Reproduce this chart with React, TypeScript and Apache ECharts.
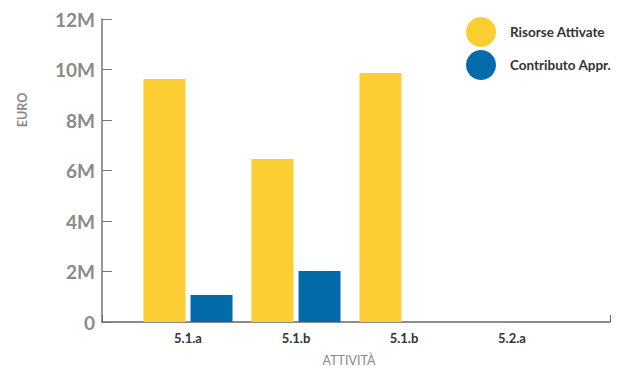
import React, { useEffect, useRef } from "react";
import * as echarts from "echarts";

const categories = ["5.1.a", "5.1.b", "5.1.b", "5.2.a"];
const risorseAttivate = [9620000, 6460000, 9860000, 0];
const contributoAppr = [1070000, 2020000, 0, 0];
const seriesNames = ["Risorse Attivate", "Contributo Appr."];
const colors = ["#FDCD34", "#046BAA"];

export default function App() {
  const ref = useRef<HTMLDivElement>(null);
  useEffect(() => {
    if (!ref.current) return;
    const chart = echarts.init(ref.current, null, { renderer: "svg" });
    const font = "Lato, 'Open Sans', sans-serif";
    chart.setOption({
      animation: false,
      textStyle: { fontFamily: font },
      legend: {
        orient: "vertical",
        left: 466,
        top: 17,
        padding: 0,
        icon: "circle",
        itemWidth: 30,
        itemHeight: 30,
        itemGap: 3,
        data: seriesNames,
        textStyle: {
          fontFamily: font,
          fontSize: 13.5,
          fontWeight: "bold",
          color: "#333",
          padding: [0, 0, 0, 9],
        },
      },
      grid: [
        { left: 102, right: 18, top: 19, bottom: 47 },
        { left: 134, width: 432, top: 19, bottom: 47 },
      ],
      xAxis: [
        {
          gridIndex: 0,
          type: "value",
          min: 0,
          max: 1,
          interval: 1,
          axisLine: { show: true, lineStyle: { color: "#666", width: 1.5 } },
          axisTick: { show: true, inside: true, length: 7, lineStyle: { color: "#666" } },
          axisLabel: { show: false },
          splitLine: { show: false },
        },
        {
          gridIndex: 1,
          type: "category",
          data: categories,
          axisLine: { show: false },
          axisTick: { show: false },
          axisLabel: { margin: 9, fontFamily: font, fontSize: 13, fontWeight: "bold", color: "#333" },
        },
      ],
      yAxis: [
        {
          gridIndex: 0,
          type: "value",
          min: 0,
          max: 12000000,
          interval: 2000000,
          axisLine: { show: true, lineStyle: { color: "#777", width: 1.5 } },
          axisTick: { show: true, inside: true, length: 10, lineStyle: { color: "#777" } },
          splitLine: { show: false },
          axisLabel: {
            margin: 7,
            fontFamily: font,
            fontSize: 19,
            fontWeight: "bold",
            color: "#8a8a8a",
            formatter: (v: number) => (v === 0 ? "0" : v / 1000000 + "M"),
          },
        },
        {
          gridIndex: 1,
          type: "value",
          min: 0,
          max: 12000000,
          show: false,
          splitLine: { show: false },
        },
      ],
      graphic: [
        {
          type: "text",
          x: 22,
          y: 110,
          rotation: Math.PI / 2,
          style: {
            text: "EURO",
            fontFamily: font,
            fontSize: 12.5,
            fontWeight: "bold",
            fill: "#8a8a8a",
            align: "center",
            verticalAlign: "middle",
          },
        },
        {
          type: "text",
          x: 349,
          y: 360,
          style: {
            text: "ATTIVITÀ",
            fontFamily: font,
            fontSize: 12.5,
            fill: "#8a8a8a",
            align: "center",
            verticalAlign: "middle",
          },
        },
      ],
      series: [
        {
          name: seriesNames[0],
          type: "bar",
          xAxisIndex: 1,
          yAxisIndex: 1,
          data: risorseAttivate,
          barWidth: 42,
          barGap: "12%",
          itemStyle: { color: colors[0] },
        },
        {
          name: seriesNames[1],
          type: "bar",
          xAxisIndex: 1,
          yAxisIndex: 1,
          data: contributoAppr,
          barWidth: 42,
          barGap: "12%",
          itemStyle: { color: colors[1] },
        },
      ],
    });
    return () => chart.dispose();
  }, []);
  return (
    <div
      ref={ref}
      style={{ position: "fixed", left: 0, top: 0, width: 628, height: 369, background: "#fff" }}
    />
  );
}
